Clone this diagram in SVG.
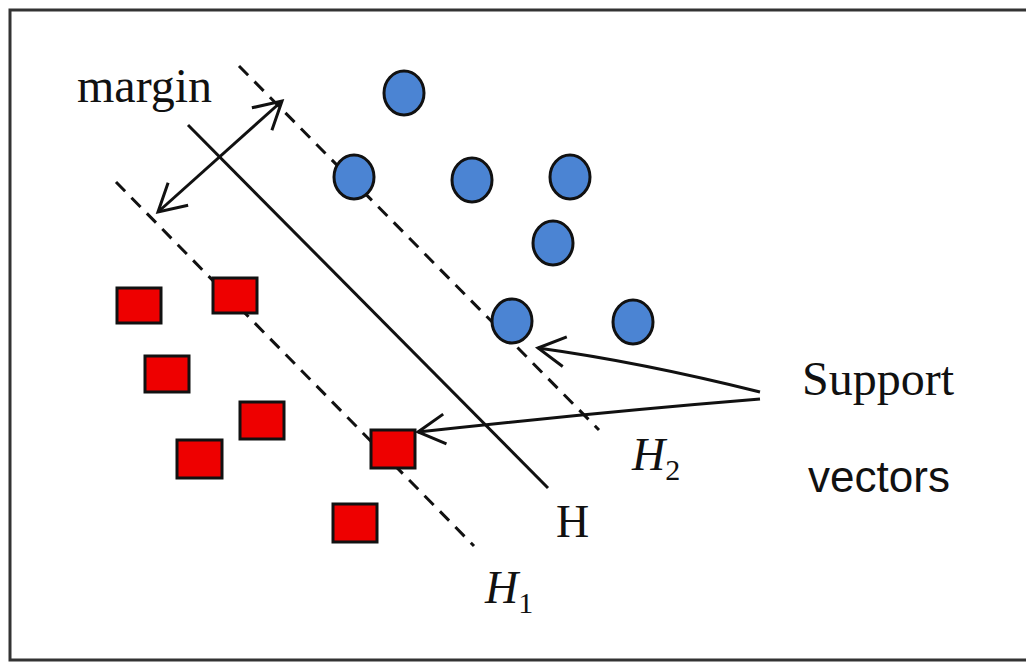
<svg xmlns="http://www.w3.org/2000/svg" width="1026" height="663" viewBox="0 0 1026 663">
<style>
.pt{fill:#4b84d3;stroke:#111;stroke-width:3}
.sq{fill:#ee0000;stroke:#111;stroke-width:3}
.ln{fill:none;stroke:#111;stroke-width:3}
.dash{fill:none;stroke:#111;stroke-width:3;stroke-dasharray:13 9}
.serif{font-family:"Liberation Serif","Times New Roman",serif;fill:#111}
.sans{font-family:"Liberation Sans",Arial,sans-serif;fill:#111}
</style>
<defs>
<marker id="chev" markerUnits="userSpaceOnUse" viewBox="-32 -20 36 40" refX="0" refY="0" markerWidth="36" markerHeight="40" orient="auto-start-reverse">
<path d="M-27,-15 L0,0 L-27,15" fill="none" stroke="#111" stroke-width="3"/>
</marker>
</defs>
<rect x="0" y="0" width="1026" height="663" fill="#fff"/>
<path d="M1026,10 H10 V660 H1026" fill="none" stroke="#333" stroke-width="3"/>
<g id="lines">
<line id="H1" class="dash" x1="116" y1="182" x2="474" y2="546"/>
<line id="H" class="ln" x1="188" y1="125" x2="548" y2="488"/>
<line id="H2" class="dash" x1="239" y1="66" x2="599" y2="430"/>
</g>
<g id="connectors">
<line class="ln" x1="158" y1="212" x2="282" y2="101" marker-start="url(#chev)" marker-end="url(#chev)"/>
<path class="ln" d="M760,392 Q640,362 538,348" marker-end="url(#chev)"/>
<path class="ln" d="M760,399 Q600,412 418,432" marker-end="url(#chev)"/>
</g>
<g id="circles">
<ellipse id="c1" class="pt" cx="404" cy="93" rx="20" ry="22"/>
<ellipse id="c2" class="pt" cx="354" cy="177" rx="20" ry="22"/>
<ellipse id="c3" class="pt" cx="472" cy="180" rx="20" ry="22"/>
<ellipse id="c4" class="pt" cx="570" cy="177" rx="20" ry="22"/>
<ellipse id="c5" class="pt" cx="553" cy="243" rx="20" ry="22"/>
<ellipse id="c6" class="pt" cx="512" cy="321" rx="20" ry="22"/>
<ellipse id="c7" class="pt" cx="633" cy="322" rx="20" ry="22"/>
</g>
<g id="squares">
<rect id="s1" class="sq" x="117" y="288" width="44" height="35"/>
<rect id="s2" class="sq" x="213" y="278" width="44" height="35"/>
<rect id="s3" class="sq" x="145" y="356" width="44" height="36"/>
<rect id="s4" class="sq" x="240" y="402" width="44" height="37"/>
<rect id="s5" class="sq" x="177" y="440" width="45" height="38"/>
<rect id="s6" class="sq" x="371" y="430" width="44" height="38"/>
<rect id="s7" class="sq" x="333" y="504" width="44" height="38"/>
</g>
<g id="labels">
<text class="serif" x="77" y="102" font-size="48">margin</text>
<text class="serif" x="802" y="395" font-size="48">Support</text>
<text class="sans" x="808" y="492" font-size="44" textLength="142" lengthAdjust="spacingAndGlyphs">vectors</text>
<text class="serif" x="556" y="537" font-size="46">H</text>
<text class="serif" x="632" y="470" font-size="46" font-style="italic">H<tspan font-style="normal" font-size="30" dy="10">2</tspan></text>
<text class="serif" x="485" y="603" font-size="46" font-style="italic">H<tspan font-style="normal" font-size="30" dy="10">1</tspan></text>
</g>
</svg>
